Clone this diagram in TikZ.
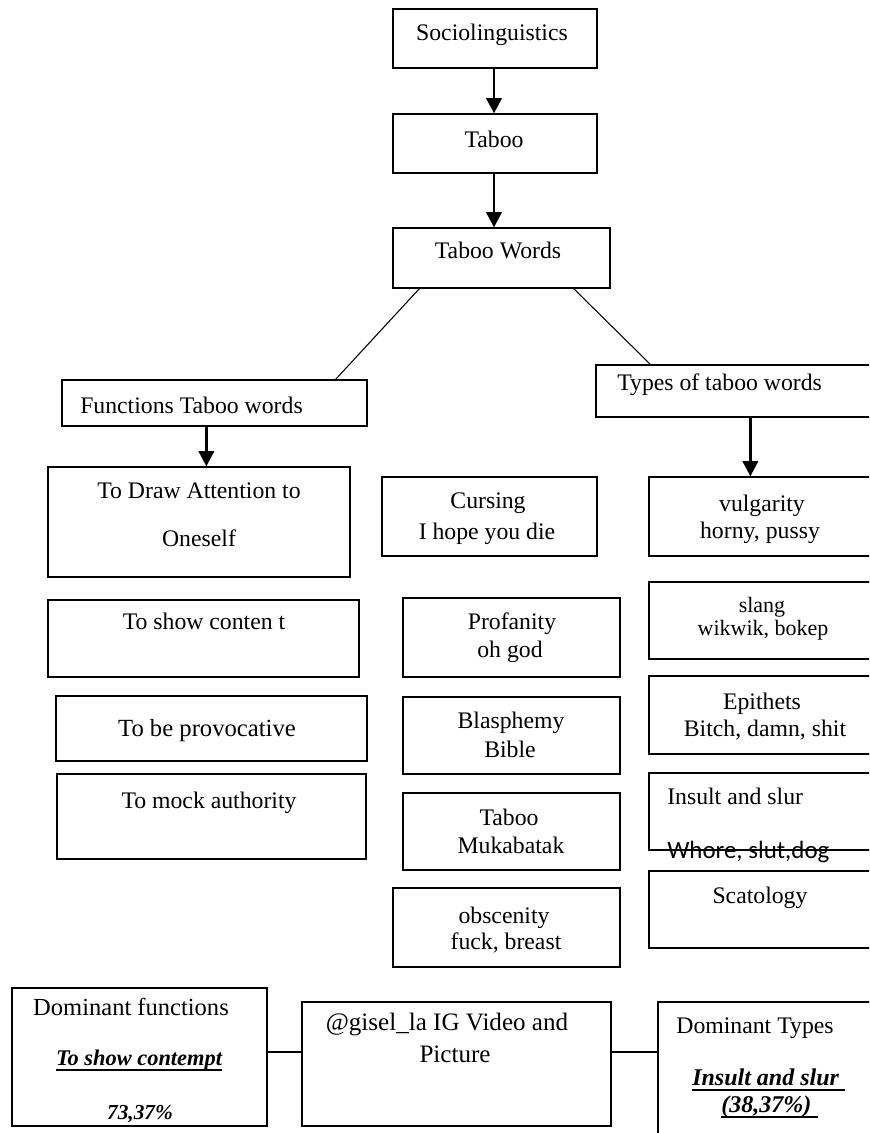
\documentclass[tikz,border=0pt]{standalone}
\usepackage{fontspec}
\setmainfont{Liberation Serif}
\newfontfamily\calfont{Carlito}
\usetikzlibrary{arrows.meta,fit,calc}
\newcommand\fMain{\fontsize{17.8pt}{21pt}\selectfont}
\newcommand\fSlang{\fontsize{16.5pt}{20pt}\selectfont}
\newcommand\fProv{\fontsize{18.5pt}{22pt}\selectfont}
\newcommand\fBot{\fontsize{18.4pt}{22pt}\selectfont}
\newcommand\fGis{\fontsize{18.8pt}{22pt}\selectfont}
\newcommand\fBIa{\fontsize{16.8pt}{20pt}\selectfont\bfseries\itshape}
\newcommand\fBIb{\fontsize{16pt}{20pt}\selectfont\bfseries\itshape}
\newcommand\fBIc{\fontsize{18pt}{20pt}\selectfont\bfseries\itshape}
\newcommand\fCal{\fontsize{18.7pt}{22pt}\selectfont\calfont}
\tikzset{
  box/.style={draw, line width=0.95pt, inner sep=0pt},
  tx/.style={inner sep=0pt, anchor=base, font=\fMain},
  txl/.style={inner sep=0pt, anchor=base west, font=\fMain},
  arr/.style={line width=2.2pt, -{Triangle[width=11.5pt,length=11.5pt]}},
  thin/.style={line width=0.8pt},
  conn/.style={line width=1.1pt},
  uline/.style={line width=2.2pt},
}
\begin{document}
\begin{tikzpicture}[x=0.75pt,y=-0.75pt]
\useasboundingbox (0,0) rectangle (869,1133);
\clip (0,0) rectangle (869,1133);
% boxes
\node[box, fit={(393,9) (597,68)}] (soc) {};
\node[box, fit={(393,114) (597,173)}] (tab) {};
\node[box, fit={(393,228) (610,288)}] (tw) {};
\node[box, fit={(62,380) (367,426)}] (func) {};
\node[box, fit={(596,365) (874,417)}] (types) {};
\node[box, fit={(48,467) (350,577)}] (draw) {};
\node[box, fit={(382,477) (597,556)}] (curs) {};
\node[box, fit={(649,477) (874,556)}] (vulg) {};
\node[box, fit={(48,600) (359,677)}] (show) {};
\node[box, fit={(403,598) (620,677)}] (prof) {};
\node[box, fit={(649,582) (874,659)}] (slang) {};
\node[box, fit={(56,696) (367,761)}] (prov) {};
\node[box, fit={(403,697) (620,774)}] (blas) {};
\node[box, fit={(649,676) (874,754)}] (epi) {};
\node[box, fit={(57,774) (366,859)}] (mock) {};
\node[box, fit={(403,793) (620,870)}] (tabm) {};
\node[box, fit={(649,773) (874,850)}] (ins) {};
\node[box, fit={(393,888) (620,967)}] (obsc) {};
\node[box, fit={(649,871) (874,948)}] (scat) {};
\node[box, fit={(12,988) (267,1126)}] (domf) {};
\node[box, fit={(302,1002) (611,1126)}] (gis) {};
\node[box, fit={(658,1002) (874,1145)}] (domt) {};
% texts
\node[tx] (tsoc) at (492,40) {Sociolinguistics};
\node[tx] (ttab) at (494,147) {Taboo};
\node[tx] (ttw) at (498,258) {Taboo Words};
\node[txl] (tfunc) at (80,413) {Functions Taboo words};
\node[txl] (ttypes) at (617,390) {Types of taboo words};
\node[tx] (tdraw1) at (199,498) {To Draw Attention to};
\node[tx] (tdraw2) at (199,546) {Oneself};
\node[tx] (tcurs1) at (488,508) {Cursing};
\node[tx] (tcurs2) at (487,539) {I hope you die};
\node[tx] (tvulg1) at (762,511) {vulgarity};
\node[tx] (tvulg2) at (760,538) {horny, pussy};
\node[tx, font=\fSlang] (tslang1) at (762,612) {slang};
\node[tx, font=\fSlang] (tslang2) at (763,635) {wikwik, bokep};
\node[tx] (tepi1) at (762,709) {Epithets};
\node[tx] (tepi2) at (765,736) {Bitch, damn, shit};
\node[txl] (tins1) at (667,804) {Insult and slur};
\node[txl, font=\fCal] (tins2) at (667,858) {Whore, slut,dog};
\node[tx] (tscat) at (760,903) {Scatology};
\node[tx] (tprof1) at (512,629) {Profanity};
\node[tx] (tprof2) at (510,657) {oh god};
\node[tx] (tblas1) at (511,728) {Blasphemy};
\node[tx] (tblas2) at (510,757) {Bible};
\node[tx] (ttabm1) at (509,825) {Taboo};
\node[tx] (ttabm2) at (511,853) {Mukabatak};
\node[tx] (tobsc1) at (504,923) {obscenity};
\node[tx] (tobsc2) at (506,949) {fuck, breast};
\node[tx] (tshow) at (204,629) {To show conten t};
\node[tx, font=\fProv] (tprov) at (207,736) {To be provocative};
\node[tx] (tmock) at (209,808) {To mock authority};
\node[tx, font=\fBot] (tdomf1) at (131,1015) {Dominant functions};
\node[tx, font=\fBIa] (tdomf2) at (139,1065) {To show contempt};
\node[tx, font=\fBIb] (tdomf3) at (140,1119) {73,37\%};
\node[tx, font=\fGis] (tgis1) at (447,1030) {@gisel\_la IG Video and};
\node[tx, font=\fGis] (tgis2) at (455,1062) {Picture};
\node[tx, font=\fMain] (tdomt1) at (755,1033) {Dominant Types};
\node[txl, font=\fBIc] (tdomt2) at (692,1085) {Insult and slur};
\node[txl, font=\fBIc] (tdomt3) at (721,1112) {(38,37\%)};
% underlines
\draw[uline] ($(tdomf2.base west)+(0,5)$) -- ($(tdomf2.base east)+(0,5)$);
\draw[uline] ($(tdomt2.base west)+(0,5)$) -- ($(tdomt2.base east)+(6,5)$);
\draw[uline] ($(tdomt3.base west)+(0,5)$) -- ($(tdomt3.base east)+(6,5)$);
% connectors
\draw[arr] (soc.south -| 494,0) -- (tab.north -| 494,0);
\draw[arr] (tab.south -| 494,0) -- (tw.north -| 494,0);
\draw[thin] ($(tw.south west)+(27,0)$) -- ($(func.north east)+(-32,0)$);
\draw[thin] ($(tw.south east)+(-37,0)$) -- ($(types.north west)+(55,0)$);
\draw[arr] ($(func.south west)+(145,0)$) coordinate (fa) -- (fa |- draw.north);
\draw[arr] ($(types.south west)+(155,0)$) coordinate (ta) -- (ta |- vulg.north);
\draw[conn] (domf.east |- 0,1052) -- (gis.west |- 0,1052);
\draw[conn] (gis.east |- 0,1052) -- (domt.west |- 0,1052);
\end{tikzpicture}
\end{document}
